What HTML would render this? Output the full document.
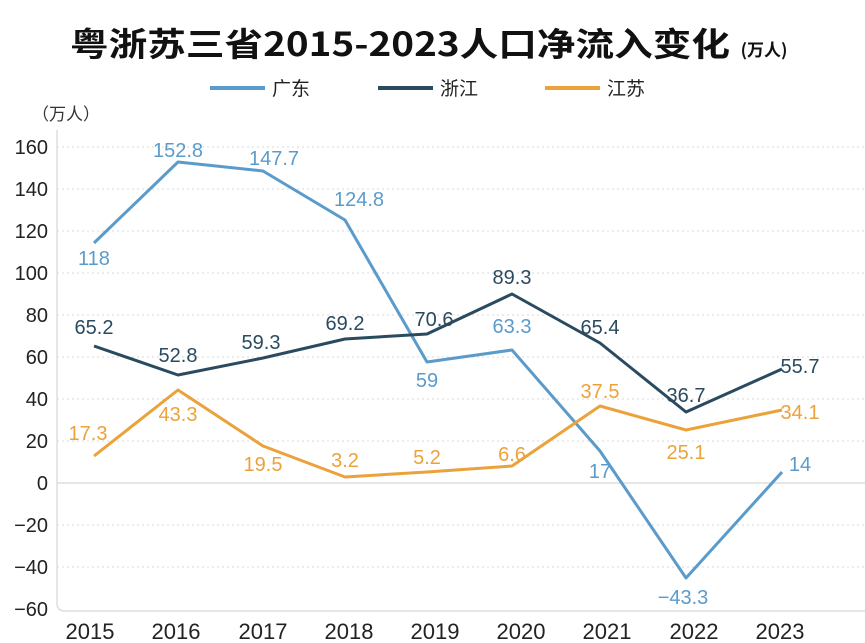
<!DOCTYPE html>
<html><head><meta charset="utf-8"><style>
body{margin:0;background:#fff;}
svg{display:block;font-family:"Liberation Sans","Noto Sans CJK SC",sans-serif;}
</style></head><body>
<svg width="865" height="643" viewBox="0 0 865 643">
<text x="400" y="56" text-anchor="middle" font-size="33" font-weight="bold" fill="#111" font-family="'Noto Sans CJK SC',sans-serif" textLength="660" lengthAdjust="spacingAndGlyphs">粤浙苏三省2015-2023人口净流入变化</text>
<text x="764" y="56" text-anchor="middle" font-size="17" font-weight="bold" fill="#111" font-family="'Noto Sans CJK SC',sans-serif">(万人)</text>
<g font-size="19" fill="#222" font-family="'Noto Sans CJK SC',sans-serif">
<line x1="210" y1="88" x2="265" y2="88" stroke="#5b9bcb" stroke-width="4"/><text x="272" y="95">广东</text>
<line x1="378" y1="88" x2="433" y2="88" stroke="#2a4a5f" stroke-width="4"/><text x="440" y="95">浙江</text>
<line x1="545" y1="88" x2="600" y2="88" stroke="#eba23a" stroke-width="4"/><text x="607" y="95">江苏</text>
</g>
<text x="32" y="120" font-size="17" fill="#333" font-family="'Noto Sans CJK SC',sans-serif">（万人）</text>
<g stroke="#d8d8d8" stroke-width="1" stroke-dasharray="2,3">
<line x1="57" y1="147" x2="865" y2="147"/><line x1="57" y1="189" x2="865" y2="189"/>
<line x1="57" y1="231" x2="865" y2="231"/><line x1="57" y1="273" x2="865" y2="273"/>
<line x1="57" y1="315" x2="865" y2="315"/><line x1="57" y1="357" x2="865" y2="357"/>
<line x1="57" y1="399" x2="865" y2="399"/><line x1="57" y1="441" x2="865" y2="441"/>
<line x1="57" y1="525" x2="865" y2="525"/><line x1="57" y1="567" x2="865" y2="567"/>
</g>
<line x1="57" y1="483" x2="865" y2="483" stroke="#ddd" stroke-width="1.5"/>
<path d="M57 130 V603 Q57 611 65 611 H865" fill="none" stroke="#ddd" stroke-width="1.5"/>
<g font-size="20" fill="#222" text-anchor="end">
<text x="48" y="154">160</text><text x="48" y="196">140</text><text x="48" y="238">120</text>
<text x="48" y="280">100</text><text x="48" y="322">80</text><text x="48" y="364">60</text>
<text x="48" y="406">40</text><text x="48" y="448">20</text><text x="48" y="490">0</text>
<text x="48" y="532">−20</text><text x="48" y="574">−40</text><text x="48" y="616">−60</text>
</g>
<g font-size="22" fill="#222" text-anchor="middle">
<text x="90" y="639">2015</text><text x="176" y="639">2016</text><text x="263" y="639">2017</text>
<text x="349" y="639">2018</text><text x="435" y="639">2019</text><text x="521" y="639">2020</text>
<text x="607" y="639">2021</text><text x="694" y="639">2022</text><text x="780" y="639">2023</text>
</g>
<g fill="none" stroke-width="3" stroke-linejoin="round">
<polyline stroke="#5b9bcb" points="94,243 178,162 263,171 345,220 427,362 512,350 600,451 686,578 782,472"/>
<polyline stroke="#2a4a5f" points="94,346 178,375 263,358 345,339 427,334 512,294 600,343 686,412 782,369"/>
<polyline stroke="#eba23a" points="94,456 178,390 263,446 345,477 427,472 512,466 600,406 686,430 782,410"/>
</g>
<g font-size="20" text-anchor="middle" fill="#5b9bcb">
<text x="94" y="265">118</text><text x="178" y="157">152.8</text><text x="274" y="165">147.7</text>
<text x="359" y="206">124.8</text><text x="427" y="387">59</text><text x="512" y="333">63.3</text>
<text x="600" y="478">17</text><text x="683" y="604">−43.3</text><text x="800" y="471">14</text>
</g>
<g font-size="20" text-anchor="middle" fill="#2a4a5f">
<text x="94" y="334">65.2</text><text x="178" y="362">52.8</text><text x="261" y="349">59.3</text>
<text x="345" y="330">69.2</text><text x="434" y="326">70.6</text><text x="512" y="284">89.3</text>
<text x="600" y="334">65.4</text><text x="686" y="402">36.7</text><text x="800" y="373">55.7</text>
</g>
<g font-size="20" text-anchor="middle" fill="#eba23a">
<text x="88" y="440">17.3</text><text x="178" y="421">43.3</text><text x="263" y="471">19.5</text>
<text x="345" y="467">3.2</text><text x="427" y="464">5.2</text><text x="512" y="461">6.6</text>
<text x="600" y="398">37.5</text><text x="686" y="459">25.1</text><text x="800" y="419">34.1</text>
</g>
</svg>
</body></html>
